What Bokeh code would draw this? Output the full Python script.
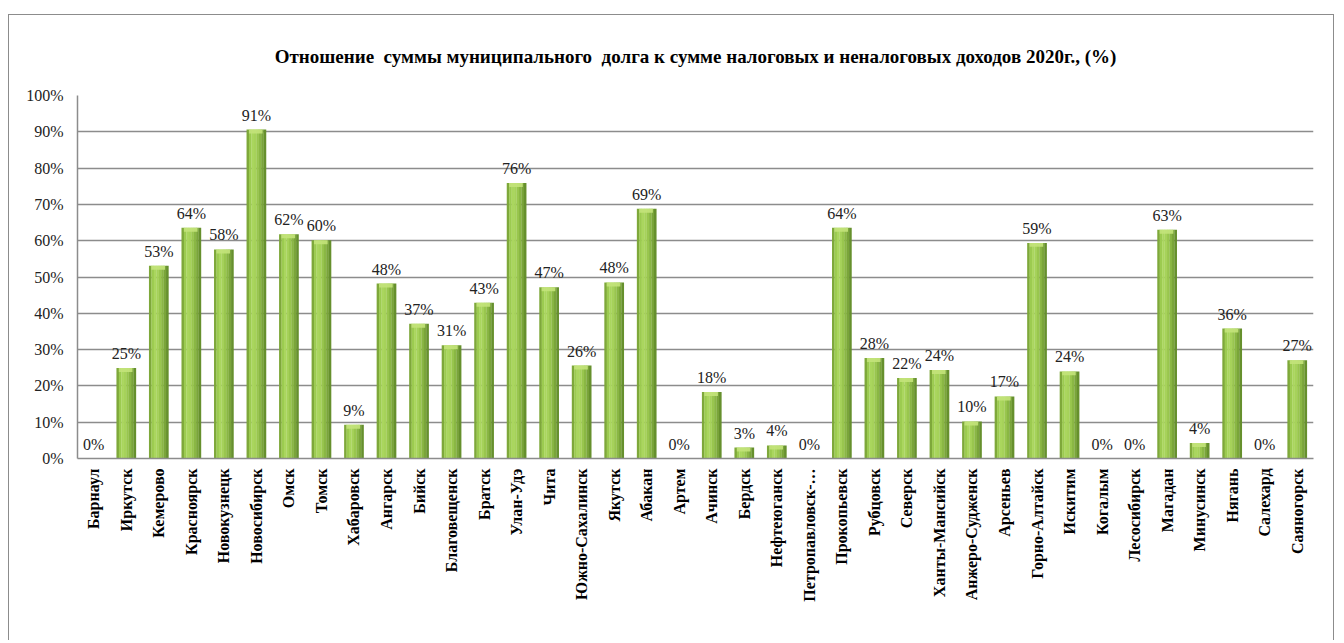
from bokeh.plotting import figure
from bokeh.models import FactorRange, Range1d, FixedTicker, PrintfTickFormatter, Title, ColumnDataSource
from bokeh.transform import dodge
from bokeh.core.properties import value
from bokeh.embed import file_html
from bokeh.resources import INLINE
import math

cities = ["Барнаул", "Иркутск", "Кемерово", "Красноярск", "Новокузнецк", "Новосибирск",
          "Омск", "Томск", "Хабаровск", "Ангарск", "Бийск", "Благовещенск", "Братск",
          "Улан-Удэ", "Чита", "Южно-Сахалинск", "Якутск", "Абакан", "Артем", "Ачинск",
          "Бердск", "Нефтеюганск", "Петропавловск-…", "Прокопьевск", "Рубцовск", "Северск",
          "Ханты-Мансийск", "Анжеро-Судженск", "Арсеньев", "Горно-Алтайск", "Искитим",
          "Когалым", "Лесосибирск", "Магадан", "Минусинск", "Нягань", "Салехард", "Саяногорск"]
ratio = [0.0, 24.9, 53.1, 63.6, 57.6, 90.6, 61.8, 60.1, 9.3, 48.2, 37.1, 31.2, 42.9,
         75.9, 47.2, 25.6, 48.5, 68.8, 0.0, 18.3, 3.0, 3.6, 0.0, 63.6, 27.7, 22.2,
         24.4, 10.2, 17.1, 59.4, 24.0, 0.0, 0.0, 63.0, 4.3, 35.8, 0.0, 27.1]
y_ticks = [0, 10, 20, 30, 40, 50, 60, 70, 80, 90, 100]

title_text = "Отношение\u00a0 суммы муниципального\u00a0 долга к сумме налоговых и неналоговых доходов 2020г., (%)"

SERIF = "'Liberation Serif', 'Times New Roman', serif"
GRID = "#8c8c8c"

p = figure(x_range=FactorRange(*cities, range_padding=0), y_range=Range1d(0, 100),
           width=1326, height=626, output_backend="svg", toolbar_location=None,
           min_border_left=68, min_border_right=22, min_border_top=80, min_border_bottom=183)
p.styles = {"position": "absolute", "left": "8px", "top": "14px",
            "border-left": "1px solid #8c8c8c", "border-top": "1px solid #8c8c8c",
            "border-right": "1px solid #8c8c8c"}
p.outline_line_color = None
p.background_fill_color = "white"
p.border_fill_color = "white"

t = Title(text=title_text, align="center", text_font=SERIF, text_font_size="19px",
          text_font_style="bold", text_color="#000000", standoff=57)
p.add_layout(t, "above")

src = ColumnDataSource(dict(cat=cities, val=ratio,
                            lbl=[f"{round(v)}%" for v in ratio],
                            bev=[max(0.0, v - 1.1) for v in ratio]))

bw = 0.6
shades = ["#7ea83a", "#9ccb50", "#aad65e", "#a6d25a", "#99c64e", "#8ab744", "#7aa53a", "#66902d"]
n = len(shades)
for i, c in enumerate(shades):
    off = -bw / 2 + (i + 0.5) * bw / n
    p.vbar(x=dodge("cat", off, range=p.x_range), top="val", bottom=0, width=bw / n * 1.08,
           source=src, fill_color=c, line_color=None)
p.vbar(x=dodge("cat", -0.02, range=p.x_range), top="val", bottom="bev", width=bw * 0.7,
       source=src, fill_color="#c3e37a", line_color=None, fill_alpha=0.9)

p.text(x="cat", y="val", text="lbl", source=src, text_align="center", text_baseline="bottom",
       y_offset=-6, text_font=value(SERIF), text_font_size="16px", text_color="#222222")

p.yaxis.ticker = FixedTicker(ticks=y_ticks)
p.yaxis.formatter = PrintfTickFormatter(format="%d%%")
p.yaxis.major_label_text_font = SERIF
p.yaxis.major_label_text_font_size = "16px"
p.yaxis.major_label_text_color = "#222222"
p.yaxis.major_tick_out = 0
p.yaxis.major_tick_in = 0
p.yaxis.minor_tick_line_color = None
p.yaxis.major_label_standoff = 14
p.yaxis.axis_line_color = GRID
p.yaxis.axis_line_width = 1.5

p.xaxis.major_label_orientation = math.pi / 2
p.xaxis.major_label_text_font = SERIF
p.xaxis.major_label_text_font_size = "16px"
p.xaxis.major_label_text_font_style = "bold"
p.xaxis.major_label_text_color = "#000000"
p.xaxis.major_tick_out = 0
p.xaxis.major_tick_in = 0
p.xaxis.major_label_standoff = 10
p.xaxis.axis_line_color = GRID
p.xaxis.axis_line_width = 1.5

p.xgrid.grid_line_color = None
p.ygrid.grid_line_color = GRID
p.ygrid.grid_line_width = 1.5

open("out.html", "w").write(file_html(p, INLINE))
